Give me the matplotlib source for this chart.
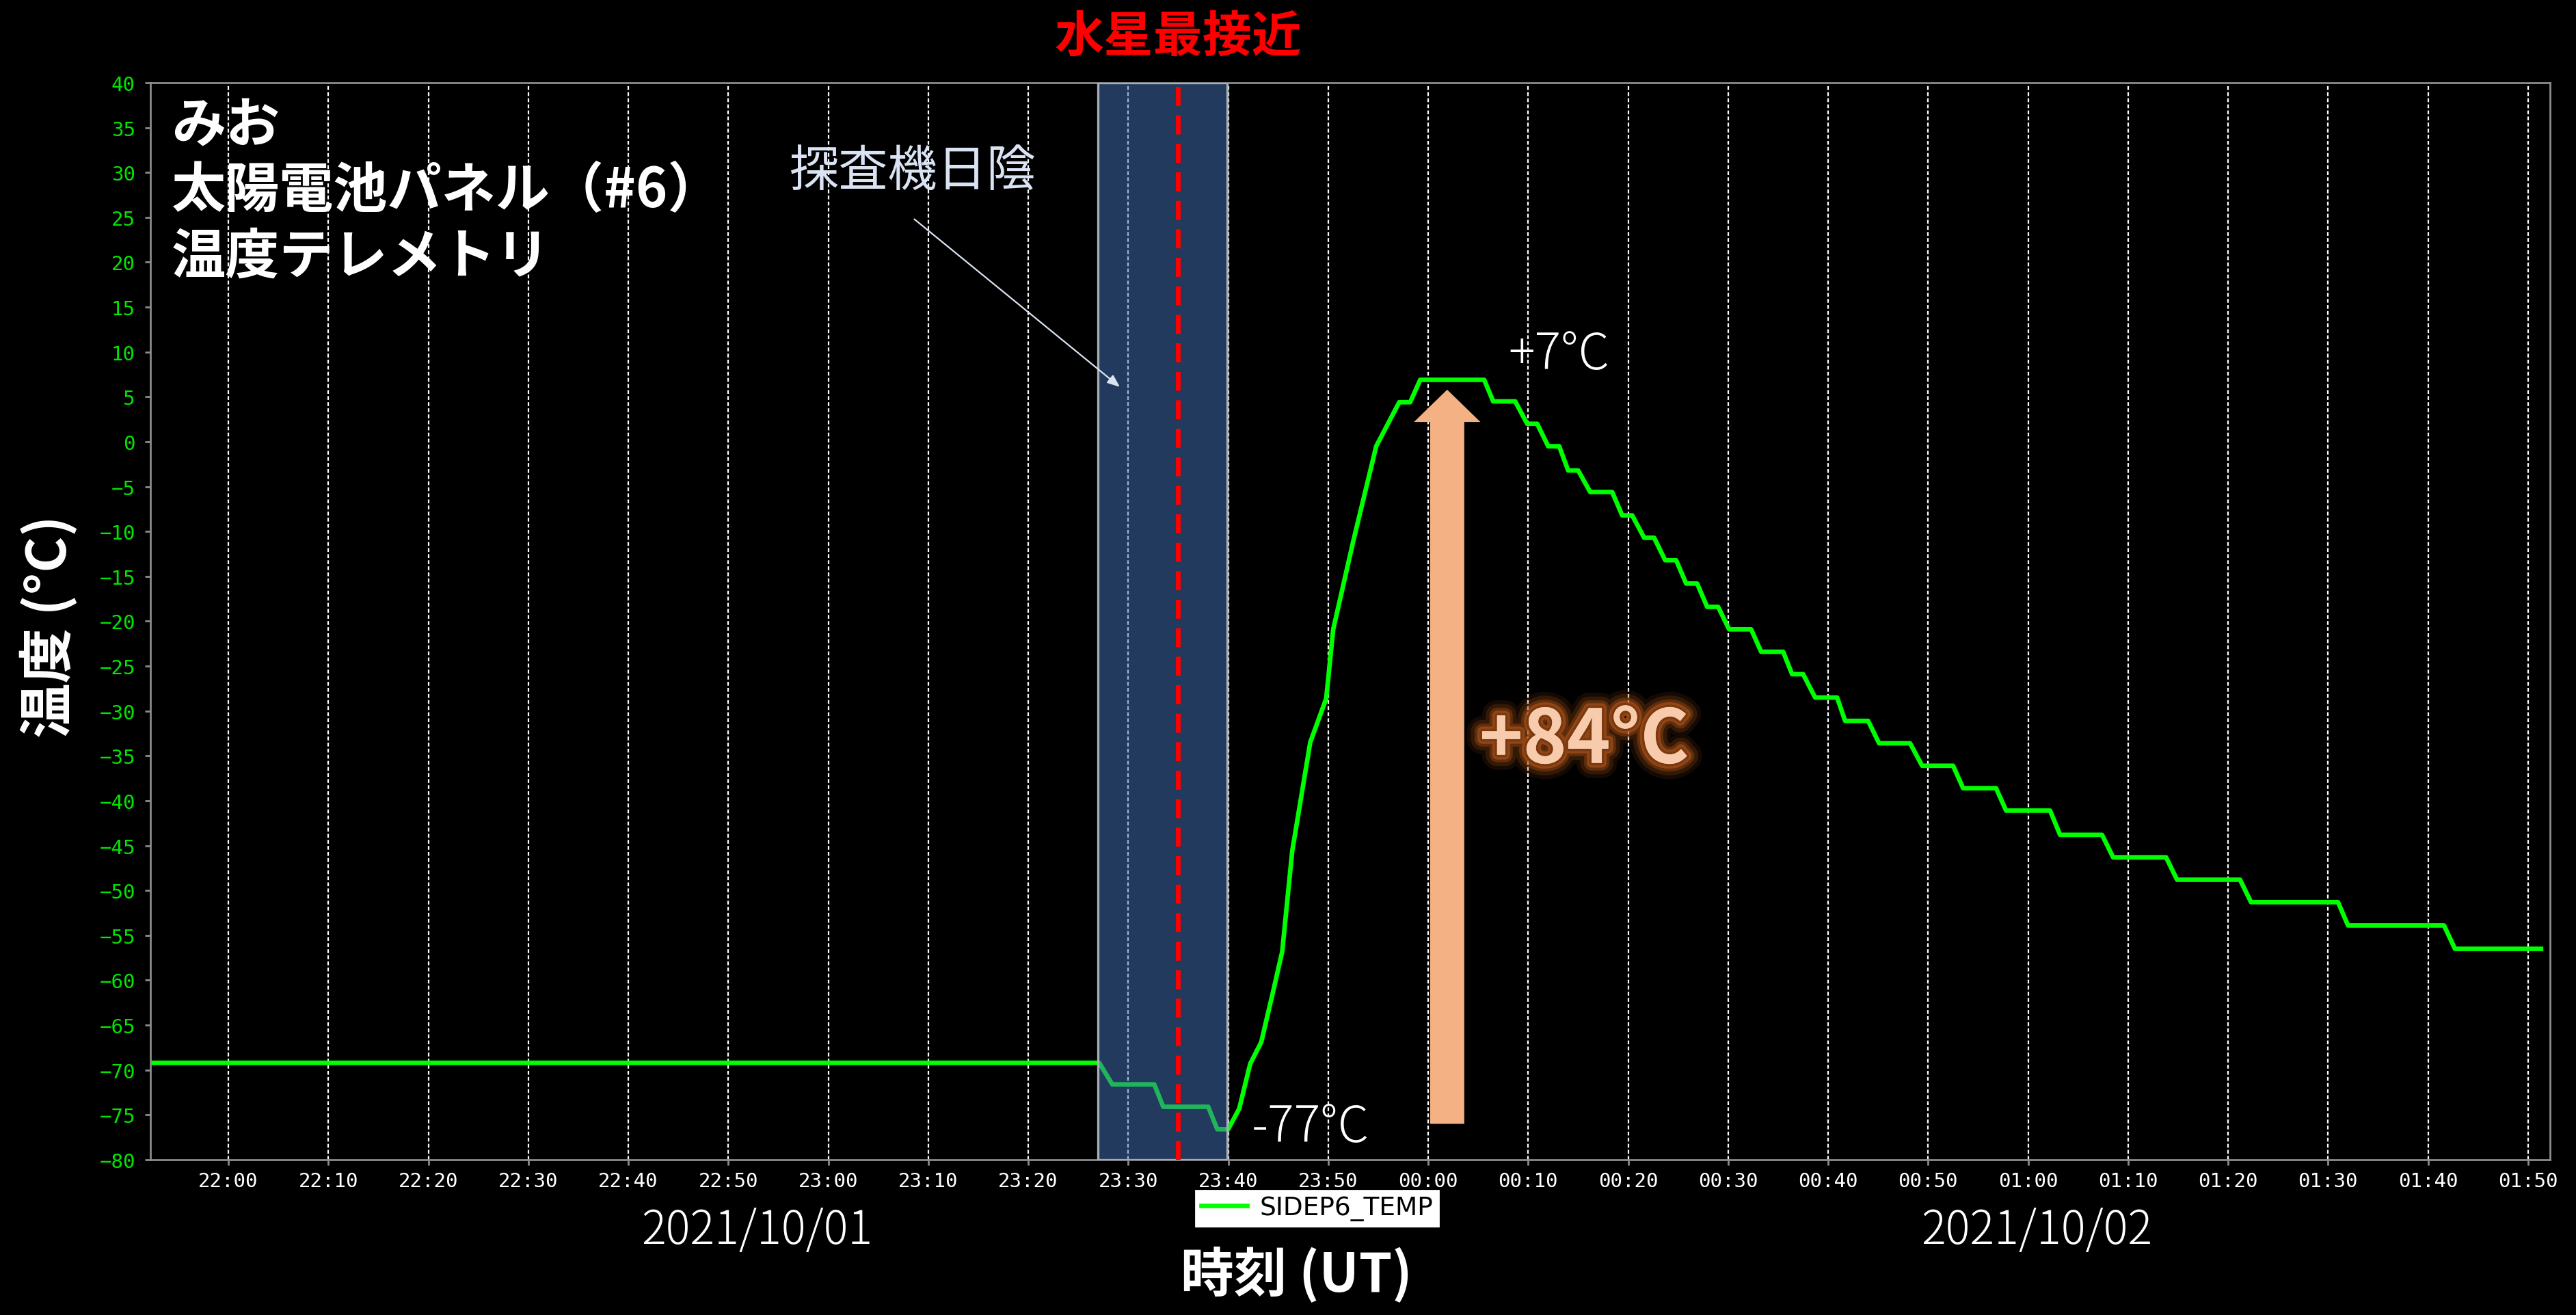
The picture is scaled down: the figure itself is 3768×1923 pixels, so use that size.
import pandas as pd
import matplotlib
matplotlib.use('Agg')
import matplotlib.pyplot as plt
import matplotlib.dates as mdates
import matplotlib.patheffects as pe

plt.rcParams['font.family'] = ['Noto Sans CJK JP', 'DejaVu Sans']

# SIDEP6_TEMP (UT, 2021/10/01 -> 10/02)
times = ['21:52:12', '23:27:06', '23:28:24', '23:32:36', '23:33:30', '23:38:00',
         '23:38:54', '23:40:00', '23:41:06', '23:42:12', '23:43:18', '23:44:30',
         '23:45:24', '23:46:24', '23:48:12', '23:49:48', '23:50:30', '23:52:30',
         '23:54:48', '23:57:06', '23:58:12', '23:59:12', '00:05:36', '00:06:30',
         '00:08:42', '00:09:54', '00:10:54', '00:12:00', '00:13:06', '00:14:00',
         '00:15:00', '00:16:12', '00:18:24', '00:19:24', '00:20:24', '00:21:36',
         '00:22:36', '00:23:42', '00:24:48', '00:25:48', '00:26:54', '00:27:54',
         '00:29:00', '00:30:06', '00:32:18', '00:33:18', '00:35:30', '00:36:24',
         '00:37:30', '00:38:42', '00:40:54', '00:41:42', '00:44:00', '00:45:06',
         '00:48:12', '00:49:24', '00:52:30', '00:53:30', '00:56:48', '00:57:48',
         '01:02:12', '01:03:12', '01:07:24', '01:08:30', '01:13:48', '01:14:54',
         '01:21:12', '01:22:18', '01:31:00', '01:32:00', '01:41:36', '01:42:42',
         '01:51:18']
temps = [-69.2, -69.2, -71.6, -71.6, -74.1, -74.1,
         -76.6, -76.6, -74.3, -69.3, -66.9, -61.2,
         -56.8, -45.6, -33.5, -28.6, -20.9, -11.1,
         -0.5, 4.4, 4.4, 6.9, 6.9, 4.5,
         4.5, 2.0, 2.0, -0.5, -0.5, -3.2,
         -3.2, -5.6, -5.6, -8.2, -8.2, -10.7,
         -10.7, -13.2, -13.2, -15.8, -15.8, -18.4,
         -18.4, -20.9, -20.9, -23.4, -23.4, -25.9,
         -25.9, -28.5, -28.5, -31.1, -31.1, -33.6,
         -33.6, -36.1, -36.1, -38.6, -38.6, -41.1,
         -41.1, -43.8, -43.8, -46.3, -46.3, -48.8,
         -48.8, -51.3, -51.3, -53.9, -53.9, -56.5,
         -56.5]

x_range = ('21:52:12', '01:52:12')
y_range = (-80, 40)
shadow = ('23:27:00', '23:39:54')   # 探査機日陰
closest = '23:35:00'                # 水星最接近
rise_time = '00:01:54'
rise = (-76.0, 5.8)
dates = ['2021/10/01', '2021/10/02']


def ut(s):
    day = '2021-10-01' if int(s[:2]) >= 12 else '2021-10-02'
    return pd.Timestamp(day + ' ' + s)


t = [ut(s) for s in times]

fig = plt.figure(figsize=(18.84, 9.62), dpi=200, facecolor='black')
ax = fig.add_axes([0.0584, 0.118, 0.9315, 0.8186])
ax.set_facecolor('black')

ax.plot(t, temps, color='#00ff00', lw=2.4, label='SIDEP6_TEMP', zorder=2)

ax.axvspan(ut(shadow[0]), ut(shadow[1]), facecolor=(65/255, 112/255, 180/255, 0.52),
           edgecolor='#a8aeb5', lw=1.2, zorder=3)
ax.axvline(ut(closest), color='#ff0000', lw=2.5, dashes=(4, 2), zorder=4)

ax.set_xlim(ut(x_range[0]), ut(x_range[1]))
ax.set_ylim(*y_range)
ax.set_yticks(range(-80, 41, 5))
ax.xaxis.set_major_locator(mdates.MinuteLocator(byminute=range(0, 60, 10)))
ax.xaxis.set_major_formatter(mdates.DateFormatter('%H:%M'))
ax.grid(axis='x', color='white', lw=0.8, dashes=(2.5, 1.5), zorder=1)

for s in ax.spines.values():
    s.set_color('#8c8c8c')
    s.set_linewidth(1.0)
ax.tick_params(axis='both', colors='#8c8c8c', length=3, width=1.0)
ax.tick_params(axis='y', labelcolor='#00e600', pad=5)
ax.tick_params(axis='x', labelcolor='white', pad=3)
for lab in ax.get_xticklabels() + ax.get_yticklabels():
    lab.set_fontfamily('DejaVu Sans Mono')
    lab.set_fontsize(10.5)

# labels
fig.text(0.0191, 0.524, '温度 (°C)', rotation=90, color='white', fontsize=29,
         fontweight='bold', ha='center', va='center')
fig.text(0.5032, 0.031, '時刻 (UT)', color='white', fontsize=28,
         fontweight='bold', ha='center', va='center')
fig.text(0.2938, 0.0644, dates[0], color='white', fontsize=24, fontweight='light',
         ha='center', va='center')
fig.text(0.7906, 0.0644, dates[1], color='white', fontsize=24, fontweight='light',
         ha='center', va='center')

for y, line in zip([0.9041, 0.8545, 0.8046], ['みお', '太陽電池パネル（#6）', '温度テレメトリ']):
    fig.text(0.0665, y, line, color='white', fontsize=28.5, fontweight='bold',
             ha='left', va='center')

ax.text(ut(closest), 1.043, '水星最接近', transform=ax.get_xaxis_transform(),
        color='#ff0000', fontsize=26, fontweight='bold', ha='center', va='center')

ax.text(ut('23:08:24'), 30.1, '探査機日陰', color='#dae3f3', fontsize=26,
        ha='center', va='center', zorder=6)
ax.annotate('', xy=(ut('23:29:10'), 6.1), xytext=(ut('23:08:36'), 24.8),
            arrowprops=dict(arrowstyle='-|>,head_length=0.55,head_width=0.22',
                            color='#dae3f3', lw=0.8, shrinkA=0, shrinkB=0),
            zorder=6)

# rise arrow
ax.annotate('', xy=(ut(rise_time), rise[1]), xytext=(ut(rise_time), rise[0]),
            arrowprops=dict(arrowstyle='simple,head_length=17,head_width=35,tail_width=18',
                            mutation_scale=1, fc='#f4b183', ec='none',
                            shrinkA=0, shrinkB=0), zorder=5)
glow = [pe.withStroke(linewidth=w, foreground='#b3561a', alpha=a)
        for w, a in [(16, 0.12), (12, 0.2), (8, 0.35), (5, 0.6)]]
ax.text(ut('00:15:36'), -33.4, '+84°C', color='#f8cbad', fontsize=39,
        fontweight='bold', ha='center', va='center', zorder=6,
        path_effects=glow + [pe.withStroke(linewidth=2.5, foreground='#7a3a10'),
                             pe.Normal()])

ax.text(ut('00:13:06'), 9.7, '+7°C', color='white', fontsize=26,
        fontweight='light', ha='center', va='center', zorder=6)
ax.text(ut('23:48:12'), -76.4, '-77°C', color='white', fontsize=26,
        fontweight='light', ha='center', va='center', zorder=6)

leg = ax.legend(loc='center', bbox_to_anchor=(0.5113, 0.0813),
                bbox_transform=fig.transFigure, frameon=True, fancybox=False,
                facecolor='white', edgecolor='white', framealpha=1,
                prop={'family': 'DejaVu Sans', 'size': 13.5}, borderpad=0.2,
                handlelength=1.8, handletextpad=0.5, borderaxespad=0)
for txt in leg.get_texts():
    txt.set_color('black')

fig.savefig('out.png', dpi=200, facecolor='black')
